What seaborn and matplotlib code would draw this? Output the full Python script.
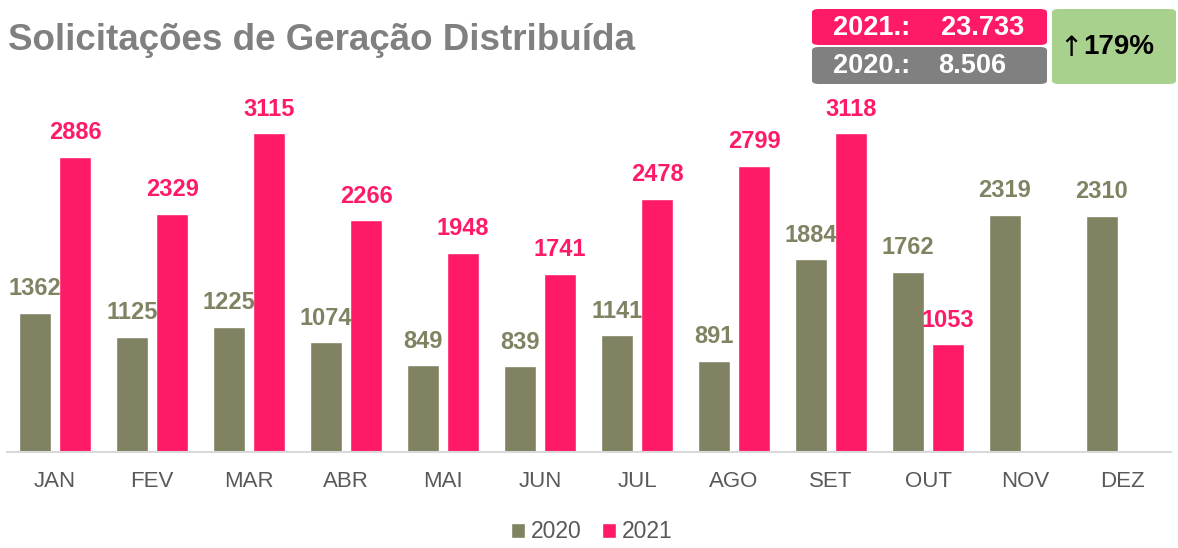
import numpy as np
import pandas as pd
import matplotlib
matplotlib.use("Agg")
import matplotlib.pyplot as plt
from matplotlib.patches import FancyBboxPatch
import seaborn as sns

# dados
meses = ["JAN", "FEV", "MAR", "ABR", "MAI", "JUN", "JUL", "AGO", "SET", "OUT", "NOV", "DEZ"]
v2020 = [1362, 1125, 1225, 1074, 849, 839, 1141, 891, 1884, 1762, 2319, 2310]
v2021 = [2886, 2329, 3115, 2266, 1948, 1741, 2478, 2799, 3118, 1053, np.nan, np.nan]
anos = ["2020", "2021"]
total_2021 = "23.733"
total_2020 = "8.506"
crescimento = "179%"

cor2020 = "#808262"
cor2021 = "#FF1A68"
cinza = "#595959"

df = pd.DataFrame({
    "mes": meses * 2,
    "ano": [anos[0]] * 12 + [anos[1]] * 12,
    "valor": v2020 + v2021,
})

sns.set_theme(style="white")
plt.rcParams["font.family"] = ["Liberation Sans", "DejaVu Sans"]

fig = plt.figure(figsize=(11.78, 5.48), dpi=100)
ax = fig.add_axes([6.5 / 1178, 96 / 548, 1164 / 1178, 352 / 548])

sns.barplot(data=df, x="mes", y="valor", hue="ano", palette=[cor2020, cor2021],
            width=0.832, gap=0.21, ax=ax, legend=False, saturation=1)

ax.set_ylim(0, 3441)
ax.set_xlim(-0.5, 11.5)
ax.set_xlabel("")
ax.set_ylabel("")
ax.set_yticks([])
for s in ["top", "right", "left"]:
    ax.spines[s].set_visible(False)
ax.spines["bottom"].set_color("#D9D9D9")
ax.spines["bottom"].set_linewidth(1.5)
ax.tick_params(axis="x", length=0, labelsize=16, labelcolor=cinza, pad=14)

# rótulos
for cont, cor in zip(ax.containers, [cor2020, cor2021]):
    labels = ["" if np.isnan(b.get_height()) else f"{int(b.get_height())}" for b in cont]
    ax.bar_label(cont, labels=labels, padding=9, color=cor, fontsize=17, fontweight="bold")

# legenda
for i, (ano, cor) in enumerate(zip(anos, [cor2020, cor2021])):
    ax.bar(np.nan, np.nan, color=cor, label=ano)
h, l = ax.get_legend_handles_labels()
fig.legend(h[-2:], l[-2:], loc="center", bbox_to_anchor=(592 / 1178, 1 - 532 / 548), ncol=2,
           frameon=False, fontsize=16.5, labelcolor=cinza, handlelength=0.6, handleheight=0.6,
           handletextpad=0.25, columnspacing=0.9)

fig.text(8 / 1178, 1 - 40 / 548, "Solicitações de Geração Distribuída", fontsize=26.5,
         fontweight="bold", color="#808080", va="center", ha="left")

# caixas de totais
def caixa(x0, y0, x1, y1, cor):
    p = FancyBboxPatch((x0 / 1178, 1 - y1 / 548), (x1 - x0) / 1178, (y1 - y0) / 548,
                       boxstyle="round,pad=0,rounding_size=0.006", transform=fig.transFigure,
                       facecolor=cor, edgecolor="none")
    fig.patches.append(p)

caixa(812, 9, 1047, 45, cor2021)
caixa(812, 47, 1047, 84, "#808080")
caixa(1052, 9, 1176, 84, "#A9D18E")

fig.text(833 / 1178, 1 - 28 / 548, "2021.:", fontsize=19.5, fontweight="bold", color="white", va="center")
fig.text(1024 / 1178, 1 - 28 / 548, total_2021, fontsize=19.5, fontweight="bold", color="white", va="center", ha="right")
fig.text(833 / 1178, 1 - 66 / 548, "2020.:", fontsize=19.5, fontweight="bold", color="white", va="center")
fig.text(938 / 1178, 1 - 66 / 548, total_2020, fontsize=19.5, fontweight="bold", color="white", va="center")
fig.text(1071 / 1178, 1 - 48 / 548, "↑", fontsize=20, color="black",
         va="center", ha="center", family=["DejaVu Sans"])
fig.text(1083 / 1178, 1 - 47 / 548, crescimento, fontsize=20, fontweight="bold", color="black",
         va="center", ha="left")

fig.savefig("out.png", dpi=100)
